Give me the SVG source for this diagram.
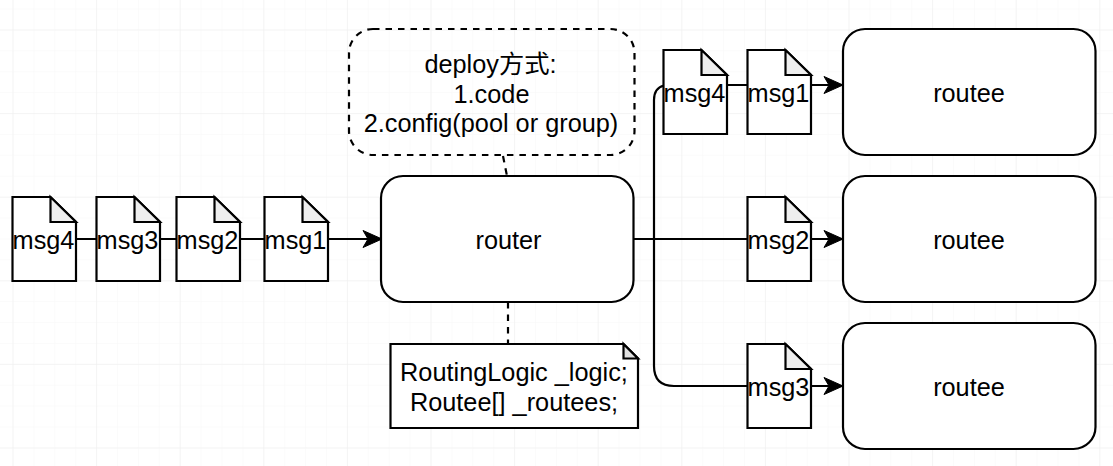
<svg xmlns="http://www.w3.org/2000/svg" width="1113" height="466" viewBox="0 0 1113 466">
<defs>
<pattern id="minor" width="20.9" height="20.9" patternUnits="userSpaceOnUse" x="12.500" y="8.500"><path d="M20.900 0H0V20.900" fill="none" stroke="#f8f8f8" stroke-width="1"/></pattern>
<pattern id="major" width="83.600" height="83.600" patternUnits="userSpaceOnUse" x="12.500" y="29.500"><path d="M83.600 0H0V83.600" fill="none" stroke="#eeeeee" stroke-width="1"/></pattern>
<marker id="arrow" markerUnits="userSpaceOnUse" markerWidth="22" markerHeight="20" refX="20" refY="10" orient="auto"><path d="M1 1.500L20 10L1 18.500L6 10Z" fill="#000" stroke="#000"/></marker>
</defs>
<style>
.s{fill:#fff;stroke:#000;stroke-width:2.2}
.f{fill:#eee;stroke:#000;stroke-width:2.2}
.c{fill:none;stroke:#000;stroke-width:2.2}
.d{fill:none;stroke:#000;stroke-width:2.2;stroke-dasharray:6.500 6}
text{font-family:"Liberation Sans","Noto Sans CJK SC",sans-serif;font-size:25.3px;fill:#000;text-anchor:middle}
</style>
<rect width="1113" height="466" fill="#fff"/>
<rect width="1113" height="466" fill="url(#minor)"/>
<rect width="1113" height="466" fill="url(#major)"/>
<g id="connectors">
<path class="c" d="M76 239H382" marker-end="url(#arrow)"/>
<path class="c" d="M634 239H843" marker-end="url(#arrow)"/>
<path class="c" d="M727 85H843" marker-end="url(#arrow)"/>
<path class="c" d="M664 85.500Q654 88 654 100V366Q654 386 674 386H843" marker-end="url(#arrow)"/>
<path class="d" d="M503 156L507 176"/>
<path class="d" d="M508 302V344"/>
</g>
<g id="deploy"><rect class="d" x="349" y="29" width="285.500" height="126" rx="24"/><text x="490.500" y="73">deploy方式:</text><text x="491.500" y="103">1.code</text><text x="491" y="132">2.config(pool or group)</text></g>
<g id="router"><rect class="s" x="381" y="176" width="252.500" height="126" rx="22"/><text x="508.500" y="249">router</text></g>
<g id="note"><path class="s" d="M390.500 344H623.500L638 358.500V428H390.500Z"/><path fill="#e0e0e0" stroke="#000" stroke-width="2.200" d="M623.500 344V358.500H638Z"/><text x="514" y="381">RoutingLogic _logic;</text><text x="514" y="411">Routee[] _routees;</text></g>
<g id="routee1"><rect class="s" x="843" y="29" width="252.500" height="126" rx="22"/><text x="969" y="102">routee</text></g>
<g id="routee2"><rect class="s" x="843" y="176" width="252.500" height="126" rx="22"/><text x="969" y="249">routee</text></g>
<g id="routee3"><rect class="s" x="843" y="323" width="252.500" height="126" rx="22"/><text x="969" y="396">routee</text></g>
<g id="m4a"><path class="s" d="M12.500 197H50.500L76 222V281H12.500Z"/><path class="f" d="M50.500 197V222H76Z"/><text x="43.500" y="249">msg4</text></g>
<g id="m3a"><path class="s" d="M96.500 197H134.500L160 222V281H96.500Z"/><path class="f" d="M134.500 197V222H160Z"/><text x="127.500" y="249">msg3</text></g>
<g id="m2a"><path class="s" d="M176.500 197H214.500L240 222V281H176.500Z"/><path class="f" d="M214.500 197V222H240Z"/><text x="207.500" y="249">msg2</text></g>
<g id="m1a"><path class="s" d="M264.500 197H302.500L328 222V281H264.500Z"/><path class="f" d="M302.500 197V222H328Z"/><text x="295.500" y="249">msg1</text></g>
<g id="m4b"><path class="s" d="M663.500 50H701.500L727 75V134H663.500Z"/><path class="f" d="M701.500 50V75H727Z"/><text x="694.500" y="102">msg4</text></g>
<g id="m1b"><path class="s" d="M747.500 50H785.500L811 75V134H747.500Z"/><path class="f" d="M785.500 50V75H811Z"/><text x="778.500" y="102">msg1</text></g>
<g id="m2b"><path class="s" d="M747.500 197H785.500L811 222V281H747.500Z"/><path class="f" d="M785.500 197V222H811Z"/><text x="778.500" y="249">msg2</text></g>
<g id="m3b"><path class="s" d="M747.500 344H785.500L811 369V428H747.500Z"/><path class="f" d="M785.500 344V369H811Z"/><text x="778.500" y="396">msg3</text></g>
</svg>
